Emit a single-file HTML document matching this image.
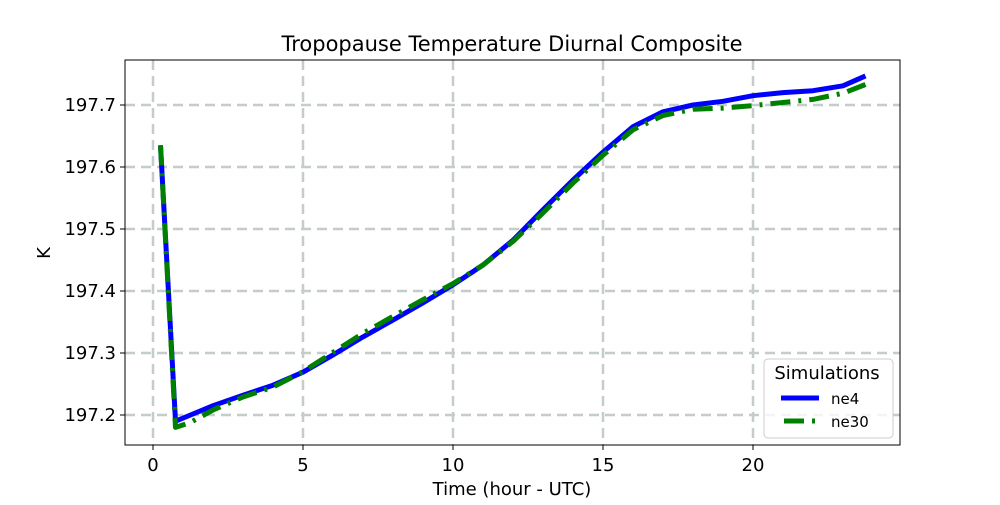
<!DOCTYPE html>
<html><head><meta charset="utf-8"><style>
body{margin:0;background:#fff;font-family:"Liberation Sans","DejaVu Sans",sans-serif}
</style></head><body>
<svg id="chart" width="1000" height="500" xmlns="http://www.w3.org/2000/svg" font-family="DejaVu Sans, Liberation Sans, sans-serif">
<rect width="1000" height="500" fill="#fff"/>
<g id="grid"></g>
<g id="series"></g>
<rect x="125" y="60" width="775" height="385" fill="none" stroke="#000" stroke-width="1"/>
<g id="ticks"></g>
<text x="512" y="51" font-size="21" text-anchor="middle">Tropopause Temperature Diurnal Composite</text>
<text x="512" y="495" font-size="18" text-anchor="middle">Time (hour - UTC)</text>
<text x="50" y="253" font-size="18" text-anchor="middle" transform="rotate(-90 50 253)">K</text>
<g>
<rect x="764" y="359" width="129" height="79" rx="4" fill="#fff" fill-opacity="0.8" stroke="#ccc"/>
<text x="827" y="379" font-size="18" text-anchor="middle">Simulations</text>
<line x1="781" y1="398" x2="819" y2="398" stroke="#0000ff" stroke-width="5"/>
<text x="831" y="404" font-size="15">ne4</text>
<line x1="784" y1="421" x2="816" y2="421" stroke="#008000" stroke-width="5" stroke-dasharray="20,8,3,8"/>
<text x="831" y="427" font-size="15">ne30</text>
</g>
</svg>
<script>
const hours=[0.25,0.75,1.25,2,3,4,5,6,7,8,9,10,11,12,13,14,15,16,17,18,19,20,21,22,23,23.75];
const ne4=[197.635,197.19,197.2,197.215,197.232,197.248,197.269,197.297,197.326,197.353,197.381,197.41,197.442,197.482,197.531,197.579,197.624,197.665,197.689,197.70,197.706,197.715,197.72,197.723,197.731,197.747];
const ne30=[197.635,197.18,197.188,197.208,197.229,197.245,197.27,197.301,197.332,197.359,197.386,197.412,197.442,197.48,197.526,197.574,197.619,197.66,197.683,197.693,197.695,197.699,197.704,197.709,197.719,197.733];
const xTicks=[0,5,10,15,20];
const yTicks=[197.2,197.3,197.4,197.5,197.6,197.7];
const X=h=>153+h*30, Y=v=>105+(197.7-v)*620;
const NS="http://www.w3.org/2000/svg";
const grid=document.getElementById('grid'),ticks=document.getElementById('ticks'),ser=document.getElementById('series');
function mk(t,a,p){const e=document.createElementNS(NS,t);for(const k in a)e.setAttribute(k,a[k]);p.appendChild(e);return e;}
xTicks.forEach(t=>{
 const g=mk('line',{x1:X(t),x2:X(t),y1:60,y2:445,stroke:'#c4cccc','stroke-width':2.5,'stroke-dasharray':'10,6'},grid);
 
 
 const tk=mk('line',{x1:X(t),x2:X(t),y1:445,y2:450,stroke:'#000'},ticks);
 
 
 const tx=mk('text',{x:X(t),y:471,'font-size':18,'text-anchor':'middle'},ticks);tx.textContent=t;
 
 
});
yTicks.forEach(t=>{
 const g=mk('line',{x1:125,x2:900,y1:Y(t),y2:Y(t),stroke:'#c4cccc','stroke-width':2.5,'stroke-dasharray':'10,6'},grid);
 
 
 const tk=mk('line',{x1:120,x2:125,y1:Y(t),y2:Y(t),stroke:'#000'},ticks);
 
 
 const tx=mk('text',{x:116,y:Y(t)+6,'font-size':18,'text-anchor':'end'},ticks);tx.textContent=t.toFixed(1);
 
 
});
function line(vals,color,dash,name){
 const d=vals.map((v,i)=>(i?'L':'M')+X(hours[i]).toFixed(1)+','+Y(v).toFixed(1)).join(' ');
 const p=mk('path',{d:d,fill:'none',stroke:color,'stroke-width':5,'stroke-linejoin':'round'},ser);
 if(dash)p.setAttribute('stroke-dasharray',dash);
 
 
}
line(ne4,'#0000ff',null,'ne4-line');
line(ne30,'#008000','20,8,3,8','ne30-line');
</script>
</body></html>
